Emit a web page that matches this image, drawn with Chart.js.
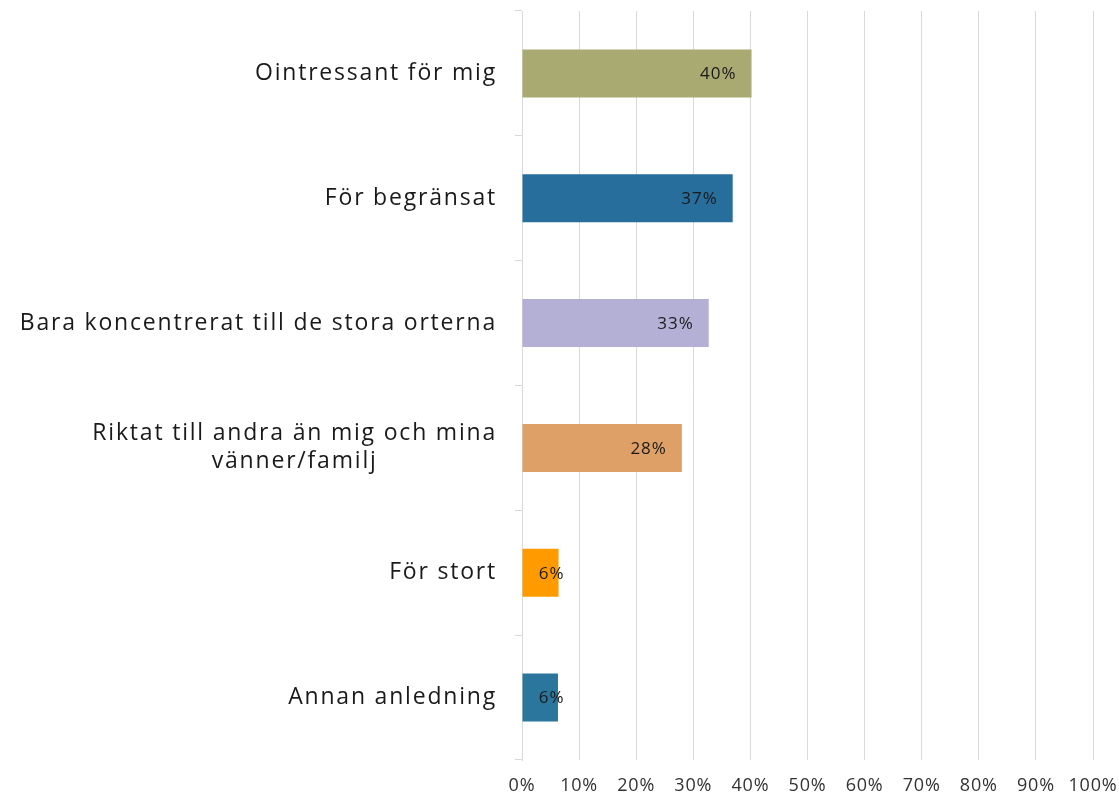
<!DOCTYPE html>
<html>
<head>
<meta charset="utf-8">
<script src="https://cdn.jsdelivr.net/npm/chart.js@4"></script>
<style>
  html, body { margin: 0; padding: 0; background: #fff; }
</style>
</head>
<body>
<canvas id="graph1" width="1119" height="795"></canvas>
<script>
// categories (multi-line where the original wraps)
var labels = [
    ["Ointressant för mig"],
    ["För begränsat"],
    ["Bara koncentrerat till de stora orterna"],
    ["Riktat till andra än mig och mina", "vänner/familj"],
    ["För stort"],
    ["Annan anledning"]
];
var values = [40.2, 36.9, 32.7, 28.0, 6.4, 6.3];
var barColors = ['#A9A972', '#276E9C', '#B4AFD5', '#DFA067', '#FF9A00', '#2A769D'];

var fontName = '"Open Sans", "DejaVu Sans", sans-serif';

// a bit of letter spacing for the whole chart (wide font in the original)
var spacing = {
    id: 'spacing',
    beforeDraw: function(chart) {
        chart.ctx.letterSpacing = '0.8px';
    }
};

// category labels, right aligned block with centred lines (like the original)
var yLabels = {
    id: 'yLabels',
    afterDraw: function(chart) {
        var ctx = chart.ctx;
        var y = chart.scales.y;
        ctx.save();
        ctx.font = '23px ' + fontName;
        ctx.letterSpacing = '1.8px';
        ctx.fillStyle = '#1a1a1a';
        ctx.textAlign = 'center';
        ctx.textBaseline = 'middle';
        labels.forEach(function(lines, i) {
            var w = Math.max.apply(null, lines.map(function(l) { return ctx.measureText(l).width; }));
            var cx = y.right - 25 - w / 2;
            var cy = y.getPixelForValue(i);
            lines.forEach(function(line, j) {
                ctx.fillText(line, cx, cy + (j - (lines.length - 1) / 2) * 28);
            });
        });
        ctx.restore();
    }
};

// value labels near the end of each bar
var barLabels = {
    id: 'barLabels',
    afterDatasetsDraw: function(chart) {
        var ctx = chart.ctx;
        var meta = chart.getDatasetMeta(0);
        ctx.save();
        ctx.font = '17px ' + fontName;
        ctx.letterSpacing = '1px';
        ctx.fillStyle = '#1a1a1a';
        ctx.textAlign = 'right';
        ctx.textBaseline = 'middle';
        meta.data.forEach(function(bar, i) {
            var x = Math.max(bar.x - 15, bar.base + 42);
            ctx.fillText(Math.round(values[i]) + '%', x, bar.y + 1);
        });
        ctx.restore();
    }
};

var ctx = document.getElementById('graph1').getContext('2d');

var config = {
    type: 'bar',
    data: {
        labels: labels,
        datasets: [{
            data: values,
            backgroundColor: barColors,
            borderWidth: 0,
            categoryPercentage: 1,
            barPercentage: 0.385
        }]
    },
    options: {
        indexAxis: 'y',
        responsive: false,
        animation: false,
        devicePixelRatio: 1,
        layout: { padding: { top: 11, right: 0, left: 0, bottom: 0 } },
        plugins: {
            legend: { display: false },
            tooltip: { enabled: false }
        },
        scales: {
            x: {
                min: 0,
                max: 100,
                ticks: {
                    stepSize: 10,
                    color: '#333',
                    font: { family: fontName, size: 18 },
                    padding: 15,
                    callback: function(v) { return v + '%'; }
                },
                grid: { color: '#d9d9d9', drawTicks: false },
                border: { display: false },
                afterFit: function(s) {
                    s.height = 35;
                    s.paddingLeft = 0;
                    s.paddingRight = 26;
                }
            },
            y: {
                ticks: { display: false },
                grid: { drawOnChartArea: false, drawTicks: true, tickLength: 7, color: '#d9d9d9', offset: true },
                border: { color: '#d9d9d9' },
                afterFit: function(s) { s.width = 522; }
            }
        }
    },
    plugins: [spacing, yLabels, barLabels]
};

var graph1 = new Chart(ctx, config);
</script>
</body>
</html>
